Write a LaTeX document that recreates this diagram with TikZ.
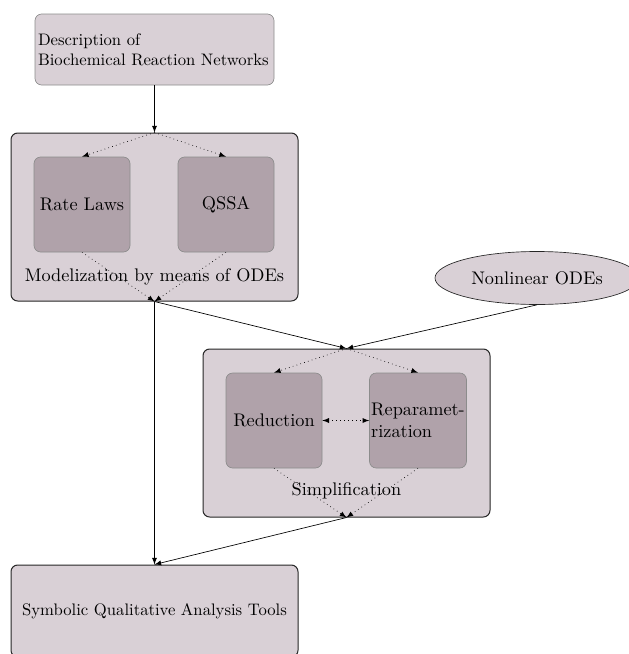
\documentclass[tikz,border=0pt]{standalone}
\usepackage{tikz}
\usetikzlibrary{arrows,%
  shapes.geometric%
}
\definecolor{boxfill}{HTML}{D9D0D6}
\definecolor{innerfill}{HTML}{B0A2AA}
\tikzset{
  bigfont/.style={font=\fontsize{10.95}{13}\selectfont},
  outerbox/.style={draw=black!85,line width=0.6pt,fill=boxfill,rounded corners=4pt,
    minimum width=172.2pt,minimum height=100.8pt,inner sep=0pt},
  innerbox/.style={draw=black!45,fill=innerfill,rounded corners=4pt,bigfont,
    minimum width=57.6pt,minimum height=57pt,inner sep=1pt},
  topbox/.style={draw=black!45,fill=boxfill,rounded corners=4pt,align=left,
    text width=139.8pt,minimum height=42.6pt,inner sep=1.8pt},
  flow/.style={->,>=latex,thin},
  subflow/.style={->,>=latex,dotted,thin}
}
\begin{document}
\begin{tikzpicture}[x=0.6pt,y=-0.6pt]
            \useasboundingbox (0,0) rectangle (629,654);

            % boxes
            \node[topbox] (desc) at (154.5,49.5) {Description of\\Biochemical Reaction Networks};
            \node[outerbox] (model) at (154.5,217) {};
            \node[innerbox] (rate) at (82,204.5) {Rate Laws};
            \node[innerbox] (qssa) at (226,204.5) {QSSA};
            \node[bigfont] (modeltxt) at (154.5,277) {Modelization by means of ODEs};

            \node[ellipse,draw=black!85,fill=boxfill,bigfont,minimum width=122.4pt,minimum height=31.8pt] (odes) at (537,278) {Nonlinear ODEs};

            \node[outerbox] (simp) at (346.5,433) {};
            \node[innerbox] (red) at (274,420.5) {Reduction};
            \node[innerbox,align=left] (repar) at (418,420.5) {Reparamet-\\rization};
            \node[bigfont] (simptxt) at (346.5,491) {Simplification};

            \node[outerbox,minimum height=55.2pt] (tools) at (154.5,611) {Symbolic Qualitative Analysis Tools};

            % connectors
            \draw[flow] (desc) -- (model.north);
            \draw[subflow] (model.north) -- (rate.north);
            \draw[subflow] (model.north) -- (qssa.north);
            \draw[subflow] (rate.south) -- (model.south);
            \draw[subflow] (qssa.south) -- (model.south);
            \draw[flow] (model.south) -- (tools.north);
            \draw[flow] (model.south) -- (simp.north);
            \draw[flow] (odes.south) -- (simp.north);
            \draw[subflow] (simp.north) -- (red.north);
            \draw[subflow] (simp.north) -- (repar.north);
            \draw[subflow,<->] (red) -- (repar);
            \draw[subflow] (red.south) -- (simp.south);
            \draw[subflow] (repar.south) -- (simp.south);
            \draw[flow] (simp.south) -- (tools.north);
        \end{tikzpicture}
\end{document}
